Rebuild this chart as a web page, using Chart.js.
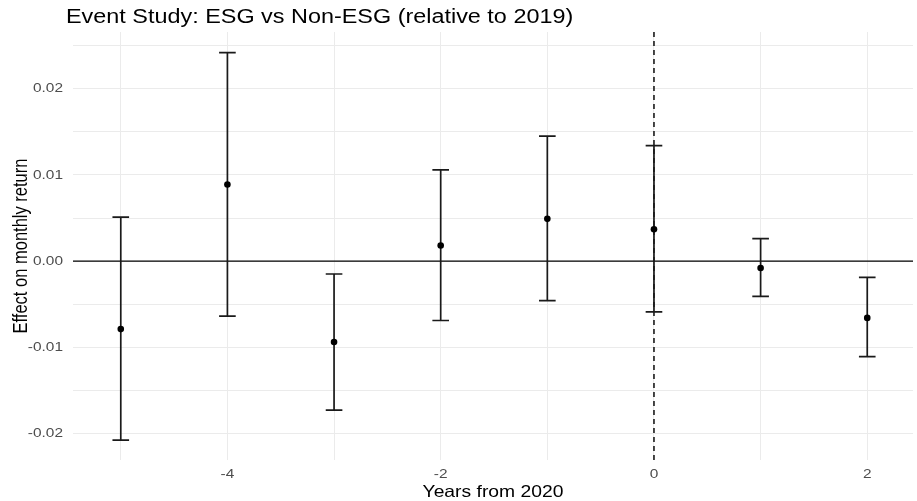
<!DOCTYPE html>
<html>
<head>
<meta charset="utf-8">
<script src="https://cdn.jsdelivr.net/npm/chart.js@4/dist/chart.umd.min.js"></script>
<style>
  html, body { margin: 0; padding: 0; background: #ffffff; }
  #wrap { width: 917px; height: 501px; }
</style>
</head>
<body>
<div id="wrap"><canvas id="c" width="917" height="501"></canvas></div>
<script>
// Event-study coefficients with 95% confidence bounds
const years    = [-5, -4, -3, -2, -1, 0, 1, 2];
const estimate = [-0.0079, 0.0089, -0.0094, 0.0018, 0.0049, 0.0037, -0.0008, -0.0066];
const lower    = [-0.0208, -0.0064, -0.0173, -0.0069, -0.0046, -0.0059, -0.0041, -0.0111];
const upper    = [0.0051, 0.0242, -0.0015, 0.0106, 0.0145, 0.0134, 0.0026, -0.0019];

// Axis ticks: labelled (major) and unlabelled (minor) grid positions
const yMajor       = [-0.02, -0.01, 0, 0.01, 0.02];
const yMajorLabels = ['-0.02', '-0.01', '0.00', '0.01', '0.02'];
const yMinor       = [-0.015, -0.005, 0.005, 0.015, 0.025];
const xMajor       = [-4, -2, 0, 2];
const xMajorLabels = ['-4', '-2', '0', '2'];
const xMinor       = [-5, -3, -1, 1];

const titleText  = 'Event Study: ESG vs Non-ESG (relative to 2019)';
const xTitleText = 'Years from 2020';
const yTitleText = 'Effect on monthly return';

const FONT = '"Liberation Sans", Arial, sans-serif';
const TEXT_SX = 1.17;   // horizontal text stretch
const CAP_HALF = 0.078; // half-width of error bar caps, in x units

function buildTicks(scale, major, minor) {
  const all = major.concat(minor).slice().sort((a, b) => a - b);
  scale.ticks = all.map(v => ({ value: v }));
}

function drawText(ctx, str, x, y, size, color, align, baseline, rotated) {
  ctx.save();
  ctx.translate(x, y);
  if (rotated) {
    ctx.rotate(-Math.PI / 2);
    ctx.scale(1, TEXT_SX);
  } else {
    ctx.scale(TEXT_SX, 1);
  }
  ctx.font = size + 'px ' + FONT;
  ctx.fillStyle = color;
  ctx.textAlign = align;
  ctx.textBaseline = baseline;
  ctx.fillText(str, 0, 0);
  ctx.restore();
}

const errorBars = {
  id: 'errorBars',
  beforeDatasetsDraw(chart) {
    const { ctx, chartArea: a, scales: { x, y } } = chart;
    ctx.save();
    // horizontal reference at zero
    const y0 = y.getPixelForValue(0);
    ctx.strokeStyle = '#000000';
    ctx.lineWidth = 1.2;
    ctx.beginPath();
    ctx.moveTo(a.left, y0);
    ctx.lineTo(a.right, y0);
    ctx.stroke();
    // dashed vertical line at the event year
    const x0 = x.getPixelForValue(0);
    ctx.strokeStyle = '#1a1a1a';
    ctx.lineWidth = 1.6;
    ctx.setLineDash([5, 4]);
    ctx.beginPath();
    ctx.moveTo(x0, a.top);
    ctx.lineTo(x0, a.bottom);
    ctx.stroke();
    ctx.setLineDash([]);
    // confidence intervals
    ctx.strokeStyle = '#1a1a1a';
    ctx.lineWidth = 1.7;
    for (let i = 0; i < years.length; i++) {
      const px = x.getPixelForValue(years[i]);
      const pl = y.getPixelForValue(lower[i]);
      const pu = y.getPixelForValue(upper[i]);
      const hw = x.getPixelForValue(years[i] + CAP_HALF) - px;
      ctx.beginPath();
      ctx.moveTo(px, pu); ctx.lineTo(px, pl);
      ctx.moveTo(px - hw, pu); ctx.lineTo(px + hw, pu);
      ctx.moveTo(px - hw, pl); ctx.lineTo(px + hw, pl);
      ctx.stroke();
    }
    ctx.restore();
  }
};

// Title, axis titles and tick labels
const labels = {
  id: 'labels',
  afterDraw(chart) {
    const { ctx, chartArea: a, scales: { x, y } } = chart;
    drawText(ctx, titleText, 66, 17, 20, '#000000', 'left', 'middle', false);
    yMajor.forEach((v, i) => {
      drawText(ctx, yMajorLabels[i], 63, y.getPixelForValue(v), 13.2, '#4d4d4d', 'right', 'middle', false);
    });
    xMajor.forEach((v, i) => {
      drawText(ctx, xMajorLabels[i], x.getPixelForValue(v), 474.5, 13.2, '#4d4d4d', 'center', 'middle', false);
    });
    drawText(ctx, xTitleText, (a.left + a.right) / 2, 497, 16.5, '#000000', 'center', 'alphabetic', false);
    drawText(ctx, yTitleText, 27, (a.top + a.bottom) / 2, 16.5, '#000000', 'center', 'alphabetic', true);
  }
};

new Chart(document.getElementById('c'), {
  type: 'scatter',
  data: {
    datasets: [{
      data: years.map((yr, i) => ({ x: yr, y: estimate[i] })),
      pointRadius: 3.3,
      pointBackgroundColor: '#000000',
      pointBorderWidth: 0,
      showLine: false
    }]
  },
  options: {
    responsive: false,
    animation: false,
    devicePixelRatio: 1,
    layout: { padding: { top: 32, right: 0, left: 0, bottom: 0 } },
    plugins: { legend: { display: false }, tooltip: { enabled: false }, title: { display: false } },
    scales: {
      x: {
        type: 'linear',
        min: -5.448,
        max: 2.429,
        afterBuildTicks: s => buildTicks(s, xMajor, xMinor),
        afterFit: s => { s.height = 41; },
        border: { display: false },
        grid: { color: '#ebebeb', lineWidth: 1, drawTicks: false },
        ticks: { display: false }
      },
      y: {
        type: 'linear',
        min: -0.0231,
        max: 0.0266,
        afterBuildTicks: s => buildTicks(s, yMajor, yMinor),
        afterFit: s => { s.width = 73; },
        border: { display: false },
        grid: { color: '#ebebeb', lineWidth: 1, drawTicks: false },
        ticks: { display: false }
      }
    }
  },
  plugins: [errorBars, labels]
});
</script>
</body>
</html>
